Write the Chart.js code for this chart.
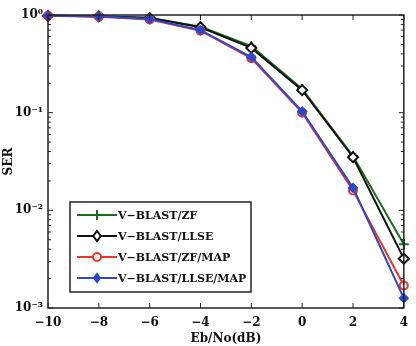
<!DOCTYPE html>
<html>
<head>
<meta charset="utf-8">
<script src="https://cdn.jsdelivr.net/npm/chart.js@4/dist/chart.umd.min.js"></script>
<style>
  html, body { margin: 0; padding: 0; background: #fff; }
  #wrap { width: 416px; height: 346px; }
</style>
</head>
<body>
<div id="wrap"><canvas id="c" width="416" height="346"></canvas></div>
<script>
// ─── Data ─────────────────────────────────────────────────────────────────────
const ebno        = [-10, -8, -6, -4, -2, 0, 2, 4];
const serZF       = [0.98, 0.97, 0.94, 0.76, 0.48, 0.175, 0.036, 0.0045];
const serLLSE     = [0.98, 0.97, 0.93, 0.75, 0.46, 0.17, 0.035, 0.0032];
const serZFMAP    = [0.98, 0.96, 0.90, 0.69, 0.36, 0.100, 0.016, 0.0017];
const serLLSEMAP  = [0.98, 0.97, 0.91, 0.70, 0.37, 0.103, 0.017, 0.00126];
const xTicks      = [-10, -8, -6, -4, -2, 0, 2, 4];
const yMajor      = [1e-3, 1e-2, 1e-1, 1];
const yLabels     = ['10⁻³', '10⁻²', '10⁻¹', '10⁰'];
const seriesNames = ['V−BLAST/ZF', 'V−BLAST/LLSE', 'V−BLAST/ZF/MAP', 'V−BLAST/LLSE/MAP'];

const FONT = '"DejaVu Serif", "Liberation Serif", serif';

function pts(ys) { return ebno.map((x, i) => ({ x, y: ys[i] })); }

function drawMarker(ctx, style, x, y, r) {
  if (style === 'circle') { ctx.arc(x, y, r, 0, Math.PI * 2); }
  else if (style === 'rectRot') {
    ctx.moveTo(x, y - r); ctx.lineTo(x + r * 0.75, y); ctx.lineTo(x, y + r); ctx.lineTo(x - r * 0.75, y); ctx.closePath();
  } else if (style === 'cross') {
    ctx.moveTo(x - r, y); ctx.lineTo(x + r, y); ctx.moveTo(x, y - r); ctx.lineTo(x, y + r);
  }
}

// ─── Frame, inward ticks and in-plot legend ──────────────────────────────────
const framePlugin = {
  id: 'frame',
  afterDraw(chart) {
    const { ctx, chartArea: a, scales } = chart;
    const xs = scales.x, ys = scales.y;
    ctx.save();
    ctx.strokeStyle = '#222';
    ctx.lineWidth = 1.5;
    ctx.strokeRect(a.left, a.top, a.right - a.left, a.bottom - a.top);

    ctx.lineWidth = 1;
    ctx.beginPath();
    xTicks.forEach(v => {
      const px = xs.getPixelForValue(v);
      ctx.moveTo(px, a.bottom); ctx.lineTo(px, a.bottom - 5);
      ctx.moveTo(px, a.top);    ctx.lineTo(px, a.top + 5);
    });
    for (let e = -3; e <= 0; e++) {
      for (let m = 1; m <= 9; m++) {
        const v = m * Math.pow(10, e);
        if (v > 1.0001) break;
        const py = ys.getPixelForValue(v);
        const len = m === 1 ? 5 : 3;
        ctx.moveTo(a.left, py);  ctx.lineTo(a.left + len, py);
        ctx.moveTo(a.right, py); ctx.lineTo(a.right - len, py);
      }
    }
    ctx.stroke();

    // legend box
    const bx = a.left + 22, by = a.bottom - 106, bw = 181, bh = 90;
    ctx.fillStyle = '#fff';
    ctx.fillRect(bx, by, bw, bh);
    ctx.lineWidth = 1.5;
    ctx.strokeStyle = '#222';
    ctx.strokeRect(bx, by, bw, bh);

    ctx.font = 'bold 11px ' + FONT;
    ctx.textBaseline = 'middle';
    chart.data.datasets.forEach((ds, i) => {
      const ry = by + 13 + i * 21;
      const x0 = bx + 7, x1 = bx + 47, xm = (x0 + x1) / 2;
      ctx.strokeStyle = ds.borderColor;
      ctx.lineWidth = ds.borderWidth;
      ctx.beginPath(); ctx.moveTo(x0, ry); ctx.lineTo(x1, ry); ctx.stroke();
      ctx.fillStyle = ds.pointBackgroundColor;
      ctx.lineWidth = ds.pointBorderWidth;
      ctx.beginPath();
      drawMarker(ctx, ds.pointStyle, xm, ry, ds.pointRadius);
      ctx.fill();
      ctx.stroke();
      ctx.fillStyle = '#111';
      ctx.fillText(seriesNames[i], x1 + 1, ry + 1);
    });
    ctx.restore();
  }
};

function line(label, data, color, style, radius, fill, order) {
  return {
    label, data: pts(data), order,
    borderColor: color, borderWidth: 2,
    pointStyle: style, pointRadius: radius, pointBorderWidth: 2,
    pointBackgroundColor: fill, pointBorderColor: color,
    tension: 0, clip: false,
  };
}

new Chart(document.getElementById('c'), {
  type: 'line',
  data: {
    datasets: [
      line(seriesNames[0], serZF,      '#1c6e1c', 'cross',   5, '#1c6e1c', 3),
      line(seriesNames[1], serLLSE,    '#111111', 'rectRot', 5, '#fff',    2),
      line(seriesNames[2], serZFMAP,   '#f0342c', 'circle',  4, '#fff',    1),
      line(seriesNames[3], serLLSEMAP, '#2a48c8', 'rectRot', 4, '#2a48c8', 0),
    ],
  },
  options: {
    responsive: false,
    animation: false,
    devicePixelRatio: 1,
    layout: { padding: { left: 0, right: 6, top: 15, bottom: 0 } },
    plugins: { legend: { display: false }, tooltip: { enabled: false } },
    scales: {
      x: {
        type: 'linear', min: -10, max: 4,
        grid: { display: false, drawTicks: false },
        border: { display: false },
        afterBuildTicks: s => { s.ticks = xTicks.map(v => ({ value: v })); },
        afterFit: s => { s.height = 38; },
        ticks: {
          padding: 8, color: '#111',
          font: { family: FONT, size: 12, weight: 'bold' },
          callback: v => (v < 0 ? '−' + Math.abs(v) : String(v)),
        },
        title: {
          display: true, text: 'Eb/No(dB)', color: '#111', padding: { top: 0, bottom: 0 },
          font: { family: FONT, size: 12, weight: 'bold' },
        },
      },
      y: {
        type: 'logarithmic', min: 1e-3, max: 1,
        grid: { display: false, drawTicks: false },
        border: { display: false },
        afterBuildTicks: s => { s.ticks = yMajor.map(v => ({ value: v })); },
        afterFit: s => { s.width = 48; },
        ticks: {
          padding: 5, color: '#111',
          font: { family: FONT, size: 12, weight: 'bold' },
          callback: (v) => yLabels[yMajor.findIndex(m => Math.abs(m - v) / m < 1e-6)],
        },
        title: {
          display: true, text: 'SER', color: '#111', padding: { top: 2, bottom: 0 },
          font: { family: FONT, size: 12, weight: 'bold' },
        },
      },
    },
  },
  plugins: [framePlugin],
});
</script>
</body>
</html>
